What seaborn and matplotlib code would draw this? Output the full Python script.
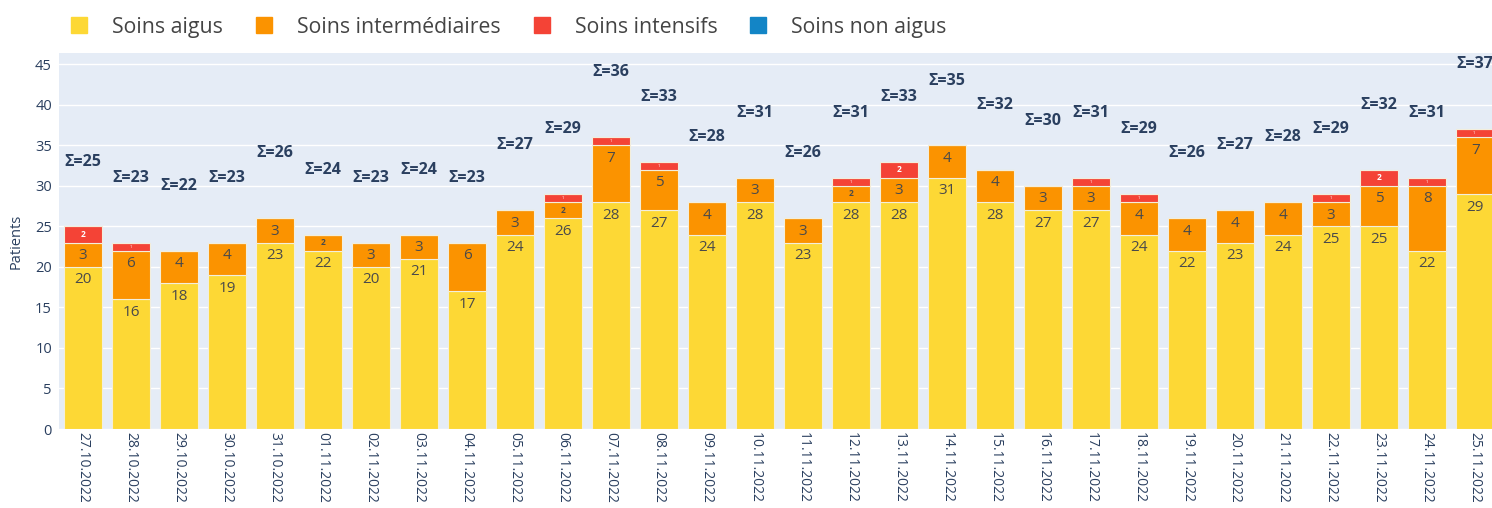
import matplotlib
matplotlib.use('Agg')
import matplotlib.pyplot as plt
import seaborn as sns
import pandas as pd
import numpy as np
from matplotlib.lines import Line2D

dates = ['27.10.2022', '28.10.2022', '29.10.2022', '30.10.2022', '31.10.2022',
         '01.11.2022', '02.11.2022', '03.11.2022', '04.11.2022', '05.11.2022',
         '06.11.2022', '07.11.2022', '08.11.2022', '09.11.2022', '10.11.2022',
         '11.11.2022', '12.11.2022', '13.11.2022', '14.11.2022', '15.11.2022',
         '16.11.2022', '17.11.2022', '18.11.2022', '19.11.2022', '20.11.2022',
         '21.11.2022', '22.11.2022', '23.11.2022', '24.11.2022', '25.11.2022']
soins_aigus = [20, 16, 18, 19, 23, 22, 20, 21, 17, 24, 26, 28, 27, 24, 28,
               23, 28, 28, 31, 28, 27, 27, 24, 22, 23, 24, 25, 25, 22, 29]
soins_inter = [3, 6, 4, 4, 3, 2, 3, 3, 6, 3, 2, 7, 5, 4, 3,
               3, 2, 3, 4, 4, 3, 3, 4, 4, 4, 4, 3, 5, 8, 7]
soins_intens = [2, 1, 0, 0, 0, 0, 0, 0, 0, 0, 1, 1, 1, 0, 0,
                0, 1, 2, 0, 0, 0, 1, 1, 0, 0, 0, 1, 2, 1, 1]
soins_non_aigus = [0] * 30

series = ['Soins aigus', 'Soins intermédiaires', 'Soins intensifs', 'Soins non aigus']
colors = ['#FDD835', '#FB9300', '#F44336', '#1385C6']

df = pd.DataFrame({'date': dates, 'Soins aigus': soins_aigus,
                   'Soins intermédiaires': soins_inter,
                   'Soins intensifs': soins_intens,
                   'Soins non aigus': soins_non_aigus})

sns.set_style('white')
plt.rcParams['font.family'] = ['Open Sans', 'DejaVu Sans']

fig = plt.figure(figsize=(14.92, 5.08), dpi=100)
ax = fig.add_axes([0.0395, 0.1555, 0.9605, 0.7402])
ax.set_facecolor('#E5ECF6')

txt_col = '#2A3F5F'
bottom = np.zeros(len(dates))
for name, col in zip(series, colors):
    vals = df[name].values
    sns.barplot(x=df['date'], y=vals, bottom=bottom, color=col, width=0.8,
                edgecolor='#F3EEDC', linewidth=0.8, saturation=1, ax=ax, zorder=2)
    cont = ax.containers[-1]
    # big labels sit just inside the top of the segment, small ones centred
    big = [str(v) if v >= 3 else '' for v in vals]
    small = [str(v) if 0 < v < 3 else '' for v in vals]
    for t in ax.bar_label(cont, labels=big, label_type='edge', padding=-4):
        t.set_va('top')
        t.set_fontsize(11)
        t.set_color('#4A4A4A')
    for t, v in zip(ax.bar_label(cont, labels=small, label_type='center'), vals):
        if v == 2:
            t.set_fontsize(6)
            t.set_fontweight('bold')
            t.set_color('#4A4A4A' if name != 'Soins intensifs' else 'white')
        else:
            t.set_fontsize(3)
            t.set_color('white')
    bottom = bottom + vals

totals = df[series].sum(axis=1).values
for i, tot in enumerate(totals):
    ax.text(i, tot + 8, f'Σ={tot}', ha='center', va='center', fontsize=11.5,
            fontweight='bold', color=txt_col, clip_on=False)

ax.set_xlim(-0.5, 29.35)
ax.set_ylim(0, 46.4)
ax.set_yticks(range(0, 46, 5))
ax.grid(axis='y', color='white', linewidth=1, zorder=0)
ax.set_axisbelow(True)
for s in ax.spines.values():
    s.set_visible(False)
ax.tick_params(axis='x', labelrotation=-90, labelsize=10, colors=txt_col, length=0, pad=2)
ax.tick_params(axis='y', labelsize=10.5, colors=txt_col, length=0, pad=5)
ax.set_xlabel('')
ax.set_ylabel('Patients', fontsize=10.5, color=txt_col, labelpad=8)

handles = [Line2D([0], [0], marker='s', linestyle='', markersize=12,
                  markerfacecolor=c, markeredgecolor=c) for c in colors]
fig.legend(handles, series, loc='upper left', bbox_to_anchor=(0.026, 1.005), ncol=4,
           frameon=False, fontsize=15.3, handletextpad=0.55, columnspacing=0.93,
           labelcolor='#444444')

fig.savefig('out.png', dpi=100)
